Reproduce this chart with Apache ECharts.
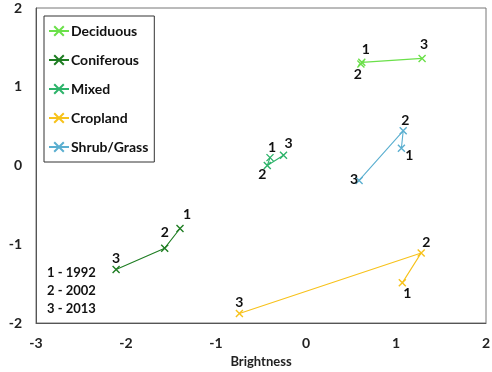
<!DOCTYPE html>
<html><head><meta charset="utf-8">
<script src="https://cdn.jsdelivr.net/npm/echarts@6/dist/echarts.min.js"></script>
<style>html,body{margin:0;padding:0;background:#fff}#c{width:492px;height:372px}</style>
</head><body><div id="c"></div>
<script>
const seriesNames = ['Deciduous','Coniferous','Mixed','Cropland','Shrub/Grass'];
const colors = ['#6be04a','#1e7d22','#2db36a','#f7c21b','#5bafd0'];
// points in order 1992, 2002, 2013 : [brightness, greenness]
const deciduous  = [[0.62,1.31],[0.61,1.29],[1.29,1.36]];
const coniferous = [[-1.40,-0.80],[-1.57,-1.05],[-2.11,-1.32]];
const mixed      = [[-0.40,0.10],[-0.43,0.00],[-0.25,0.13]];
const cropland   = [[1.07,-1.49],[1.28,-1.11],[-0.74,-1.88]];
const shrub      = [[1.06,0.22],[1.08,0.44],[0.59,-0.19]];
const pointLabels = ['1','2','3'];
const yearNotes = ['1 - 1992','2 - 2002','3 - 2013'];
const xTicks = {min:-3,max:2,interval:1};
const yTicks = {min:-2,max:2,interval:1};

// label offsets per series/point (styling only)
const labelOffsets = [
  [[4,-13],[-3,11],[2,-14]],
  [[7,-14],[0,-16],[0,-11]],
  [[2,-10],[-5,9],[5,-12]],
  [[5,11],[5,-10],[0,-11]],
  [[8,7],[2,-10],[-5,-1]]
];
const allData = [deciduous, coniferous, mixed, cropland, shrub];
const font = 'Lato, "Open Sans", sans-serif';
const xSym = 'path://M0,0L10,10M10,0L0,10';

const series = allData.map((d, si) => ({
  name: seriesNames[si],
  type: 'line',
  data: d.map((p, i) => ({
    value: p,
    label: {
      show: true,
      formatter: pointLabels[i],
      position: 'inside',
      offset: labelOffsets[si][i],
      fontFamily: font, fontWeight: 'bold', fontSize: 14, color: '#111'
    }
  })),
  symbol: xSym,
  symbolSize: 7,
  itemStyle: {color: colors[si], borderColor: colors[si], borderWidth: 1.4},
  lineStyle: {color: colors[si], width: 1.1},
  z: 3
}));

const chart = echarts.init(document.getElementById('c'), null, {renderer:'canvas'});
chart.setOption({
  animation: false,
  grid: {left: 36, right: 6, top: 8, bottom: 49, containLabel: false, outerBoundsMode: 'none',
         show: true, borderColor: '#777', borderWidth: 1},
  xAxis: {
    type: 'value', min: xTicks.min, max: xTicks.max, interval: xTicks.interval,
    name: 'Brightness', nameLocation: 'middle', nameGap: 31,
    nameTextStyle: {fontFamily: font, fontWeight: 'bold', fontSize: 13, color: '#222'},
    axisLine: {show: true, onZero: false, lineStyle: {color: '#555'}},
    axisTick: {show: false}, splitLine: {show: false},
    axisLabel: {fontFamily: font, fontWeight: 'bold', fontSize: 14, color: '#222', margin: 13}
  },
  yAxis: {
    type: 'value', min: yTicks.min, max: yTicks.max, interval: yTicks.interval,
    name: 'Greenness', nameLocation: 'middle', nameGap: 28,
    nameTextStyle: {fontFamily: font, fontWeight: 'bold', fontSize: 13, color: '#222'},
    axisLine: {show: true, onZero: false, lineStyle: {color: '#555'}},
    axisTick: {show: false}, splitLine: {show: false},
    axisLabel: {fontFamily: font, fontWeight: 'bold', fontSize: 14, color: '#222', margin: 14}
  },
  legend: {
    data: seriesNames,
    orient: 'vertical', left: 44, top: 16,
    borderColor: '#333', borderWidth: 1, backgroundColor: '#fff',
    padding: [8, 6, 8, 4], itemGap: 15, itemWidth: 20, itemHeight: 12,
    textStyle: {fontFamily: font, fontWeight: 'bold', fontSize: 14, color: '#111', padding: [0,0,0,-3]}
  },
  graphic: yearNotes.map((t, i) => ({
    type: 'text', left: 47, top: 266 + i * 18,
    style: {text: t, fontFamily: font, fontWeight: 'bold', fontSize: 13, fill: '#111'}
  })),
  series: series
});
</script></body></html>
